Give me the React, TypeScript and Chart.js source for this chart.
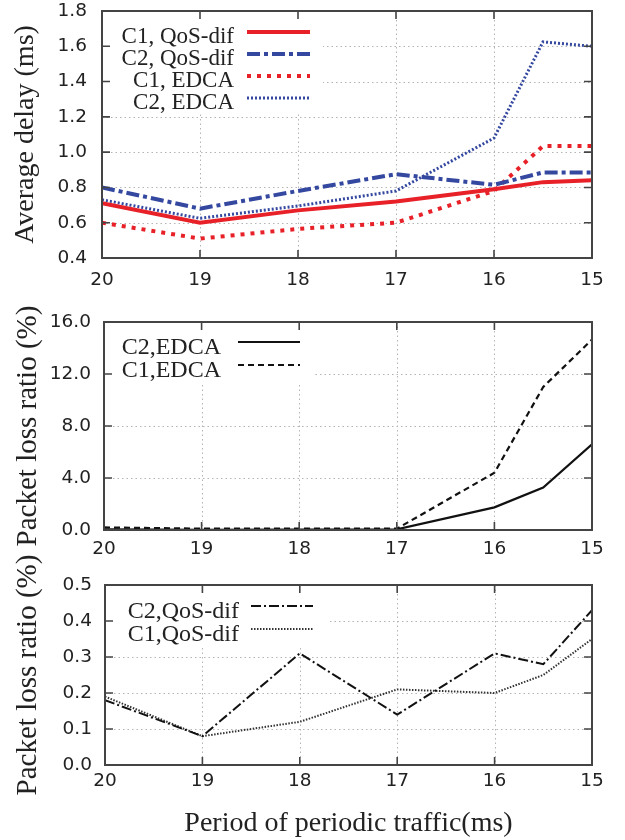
import React, { useEffect, useRef } from "react";
import { Chart, registerables } from "chart.js";

Chart.register(...registerables);

// ---------- data ----------
const periods = [20, 19, 18, 17, 16, 15.5, 15];

const delayC1QosDif = [0.71, 0.6, 0.67, 0.72, 0.79, 0.83, 0.84];
const delayC2QosDif = [0.8, 0.68, 0.78, 0.875, 0.815, 0.885, 0.885];
const delayC1Edca = [0.6, 0.51, 0.565, 0.6, 0.78, 1.035, 1.035];
const delayC2Edca = [0.73, 0.625, 0.695, 0.78, 1.08, 1.625, 1.6];

const lossC2Edca = [0.05, 0.02, 0.03, 0.05, 1.74, 3.26, 6.6];
const lossC1Edca = [0.2, 0.1, 0.1, 0.1, 4.4, 11.0, 14.65];

const lossC2QosDif = [0.18, 0.08, 0.31, 0.14, 0.31, 0.28, 0.43];
const lossC1QosDif = [0.19, 0.08, 0.12, 0.21, 0.2, 0.25, 0.35];

const xTitle = "Period of periodic traffic(ms)";
const delayTitle = "Average delay (ms)";
const lossTitle = "Packet loss ratio (%)";

const TICK_FONT = "'DejaVu Sans', sans-serif";
const SERIF = "'Liberation Serif', 'Times New Roman', serif";
const INK = "#222";

const toPoints = (ys: number[]) => periods.map((x, i) => ({ x, y: ys[i] }));

// ---------- plugin: grid, opaque key box, frame with inner ticks, key ----------
const framePlugin = {
  id: "gnuFrame",
  beforeDatasetsDraw(chart: any, _args: any, opts: any) {
    const { ctx, chartArea: a, scales } = chart;
    const xs = scales.x;
    const ys = scales.y;
    ctx.save();
    ctx.strokeStyle = "#b4b4b4";
    ctx.lineWidth = 1;
    ctx.setLineDash([1.5, 3]);
    xs.ticks.forEach((t: any) => {
      const px = Math.round(xs.getPixelForValue(t.value)) + 0.5;
      if (px <= a.left + 2 || px >= a.right - 2) return;
      ctx.beginPath();
      ctx.moveTo(px, a.top);
      ctx.lineTo(px, a.bottom);
      ctx.stroke();
    });
    ys.ticks.forEach((t: any) => {
      const py = Math.round(ys.getPixelForValue(t.value)) + 0.5;
      if (py <= a.top + 2 || py >= a.bottom - 2) return;
      ctx.beginPath();
      ctx.moveTo(a.left, py);
      ctx.lineTo(a.right, py);
      ctx.stroke();
    });
    ctx.setLineDash([]);
    ctx.fillStyle = "#fff";
    ctx.fillRect(a.left, a.top, opts.boxRight - a.left, opts.boxBottom - a.top);
    ctx.restore();
  },
  afterDatasetsDraw(chart: any, _args: any, opts: any) {
    const { ctx, chartArea: a, scales } = chart;
    const xs = scales.x;
    const ys = scales.y;
    ctx.save();
    ctx.strokeStyle = "#444";
    ctx.lineWidth = 1.6;
    ctx.setLineDash([]);
    const tl = 8;
    xs.ticks.forEach((t: any) => {
      const px = xs.getPixelForValue(t.value);
      ctx.beginPath();
      ctx.moveTo(px, a.bottom);
      ctx.lineTo(px, a.bottom - tl);
      ctx.moveTo(px, a.top);
      ctx.lineTo(px, a.top + tl);
      ctx.stroke();
    });
    ys.ticks.forEach((t: any) => {
      const py = ys.getPixelForValue(t.value);
      ctx.beginPath();
      ctx.moveTo(a.left, py);
      ctx.lineTo(a.left + tl, py);
      ctx.moveTo(a.right, py);
      ctx.lineTo(a.right - tl, py);
      ctx.stroke();
    });
    ctx.lineWidth = 2;
    ctx.strokeRect(a.left, a.top, a.right - a.left, a.bottom - a.top);

    // key
    ctx.font = `${opts.fontSize}px ${SERIF}`;
    ctx.fillStyle = INK;
    ctx.textAlign = "right";
    ctx.textBaseline = "middle";
    chart.data.datasets.forEach((ds: any, i: number) => {
      const y = opts.firstRowY + i * opts.rowGap;
      ctx.fillText(ds.label, opts.textRight, y + opts.textShift);
      ctx.save();
      ctx.strokeStyle = ds.borderColor;
      ctx.lineWidth = ds.borderWidth;
      ctx.setLineDash(ds.borderDash || []);
      ctx.beginPath();
      ctx.moveTo(opts.sampleStart, y);
      ctx.lineTo(opts.sampleEnd, y);
      ctx.stroke();
      ctx.restore();
    });
    ctx.restore();
  },
};

type Panel = {
  datasets: any[];
  yMin: number;
  yMax: number;
  yStep: number;
  yTitle: string;
  yTitleSize: number;
  yTitlePad: number;
  area: { left: number; right: number; top: number; bottom: number };
  xAxisHeight: number;
  xTickPad: number;
  yTickPad: number;
  xTitle?: string;
  key: any;
};

const TICK_SIZE = 18.5;

function makeConfig(p: Panel): any {
  const W = 625;
  const H = 840;
  return {
    type: "line",
    data: { datasets: p.datasets },
    plugins: [framePlugin],
    options: {
      animation: false,
      responsive: false,
      maintainAspectRatio: false,
      events: [],
      layout: {
        padding: {
          left: 0,
          top: p.area.top,
          right: W - p.area.right,
          bottom: H - p.area.bottom - p.xAxisHeight,
        },
      },
      elements: {
        line: { tension: 0, fill: false, borderCapStyle: "butt", borderJoinStyle: "miter" },
        point: { radius: 0 },
      },
      plugins: {
        legend: { display: false },
        tooltip: { enabled: false },
        gnuFrame: p.key,
      },
      scales: {
        x: {
          type: "linear",
          reverse: true,
          min: 15,
          max: 20,
          grid: { display: false, drawTicks: false },
          border: { display: false },
          ticks: {
            stepSize: 1,
            color: INK,
            padding: p.xTickPad,
            maxRotation: 0,
            font: { family: TICK_FONT, size: TICK_SIZE },
            callback: (v: number) => String(v),
          },
          title: p.xTitle
            ? {
                display: true,
                text: p.xTitle,
                color: INK,
                font: { family: SERIF, size: 28 },
                padding: { top: 0, bottom: 0 },
              }
            : { display: false },
          afterFit: (s: any) => {
            s.height = p.xAxisHeight;
            s.paddingLeft = 0;
            s.paddingRight = 0;
          },
        },
        y: {
          type: "linear",
          min: p.yMin,
          max: p.yMax,
          grid: { display: false, drawTicks: false },
          border: { display: false },
          ticks: {
            stepSize: p.yStep,
            color: INK,
            padding: p.yTickPad,
            font: { family: TICK_FONT, size: TICK_SIZE },
            callback: (v: number) => Number(v).toFixed(1),
          },
          title: {
            display: true,
            text: p.yTitle,
            color: INK,
            font: { family: SERIF, size: p.yTitleSize },
            padding: { top: p.yTitlePad, bottom: 0 },
          },
          afterFit: (s: any) => {
            s.width = p.area.left;
            s.paddingTop = 0;
            s.paddingBottom = 0;
          },
        },
      },
    },
  };
}

const RED = "rgb(232, 32, 40)";
const BLUE = "rgb(52, 72, 160)";

const panels: Panel[] = [
  {
    datasets: [
      { label: "C1, QoS-dif", data: toPoints(delayC1QosDif), borderColor: RED, borderWidth: 4, borderDash: [] },
      { label: "C2, QoS-dif", data: toPoints(delayC2QosDif), borderColor: BLUE, borderWidth: 4, borderDash: [13, 4, 4, 4] },
      { label: "C1, EDCA", data: toPoints(delayC1Edca), borderColor: RED, borderWidth: 4, borderDash: [4, 6] },
      { label: "C2, EDCA", data: toPoints(delayC2Edca), borderColor: BLUE, borderWidth: 3, borderDash: [2, 2] },
    ],
    yMin: 0.4,
    yMax: 1.8,
    yStep: 0.2,
    yTitle: delayTitle,
    yTitleSize: 28,
    yTitlePad: 9,
    area: { left: 102, right: 592, top: 11, bottom: 258 },
    xAxisHeight: 40,
    xTickPad: 11,
    yTickPad: 15,
    key: { boxRight: 323, boxBottom: 112, textRight: 234, sampleStart: 247, sampleEnd: 310, firstRowY: 32, rowGap: 22, textShift: 5, fontSize: 23 },
  },
  {
    datasets: [
      { label: "C2,EDCA", data: toPoints(lossC2Edca), borderColor: "#111", borderWidth: 2.2, borderDash: [] },
      { label: "C1,EDCA", data: toPoints(lossC1Edca), borderColor: "#111", borderWidth: 2.2, borderDash: [6, 4] },
    ],
    yMin: 0,
    yMax: 16,
    yStep: 4,
    yTitle: lossTitle,
    yTitleSize: 29,
    yTitlePad: 11,
    area: { left: 104, right: 592, top: 322, bottom: 530 },
    xAxisHeight: 40,
    xTickPad: 8,
    yTickPad: 13,
    key: { boxRight: 313, boxBottom: 383, textRight: 221, sampleStart: 238, sampleEnd: 300, firstRowY: 342, rowGap: 23, textShift: 6, fontSize: 24 },
  },
  {
    datasets: [
      { label: "C2,QoS-dif", data: toPoints(lossC2QosDif), borderColor: "#111", borderWidth: 2, borderDash: [10, 3, 2, 3] },
      { label: "C1,QoS-dif", data: toPoints(lossC1QosDif), borderColor: "#333", borderWidth: 2, borderDash: [1.5, 1.5] },
    ],
    yMin: 0,
    yMax: 0.5,
    yStep: 0.1,
    yTitle: lossTitle,
    yTitleSize: 29,
    yTitlePad: 11,
    area: { left: 105, right: 592, top: 585, bottom: 765 },
    xAxisHeight: 75,
    xTickPad: 5,
    yTickPad: 13,
    xTitle: xTitle,
    key: { boxRight: 327, boxBottom: 648, textRight: 239, sampleStart: 251, sampleEnd: 313, firstRowY: 606, rowGap: 23, textShift: 6, fontSize: 24 },
  },
];

export default function App() {
  const r1 = useRef<HTMLCanvasElement | null>(null);
  const r2 = useRef<HTMLCanvasElement | null>(null);
  const r3 = useRef<HTMLCanvasElement | null>(null);

  useEffect(() => {
    document.body.style.margin = "0";
    const refs = [r1, r2, r3];
    const charts = refs.map((r, i) => new Chart(r.current as HTMLCanvasElement, makeConfig(panels[i])));
    return () => charts.forEach((c) => c.destroy());
  }, []);

  const style: React.CSSProperties = { position: "absolute", left: 0, top: 0, width: 625, height: 840 };
  return (
    <div style={{ position: "fixed", left: 0, top: 0, width: 625, height: 840, background: "#fff" }}>
      <canvas ref={r1} width={625} height={840} style={style} />
      <canvas ref={r2} width={625} height={840} style={style} />
      <canvas ref={r3} width={625} height={840} style={style} />
    </div>
  );
}
